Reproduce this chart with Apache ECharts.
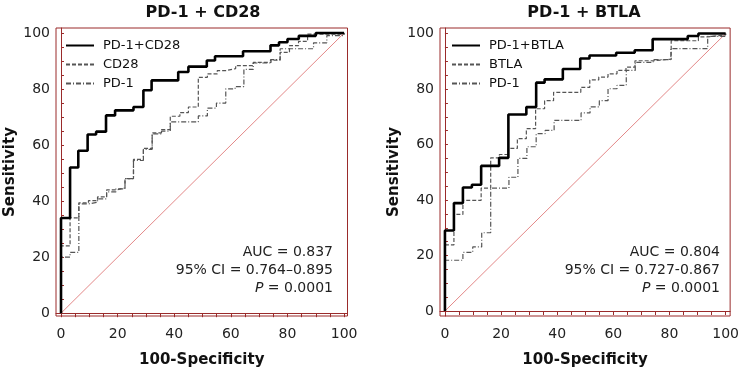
<!DOCTYPE html>
<html>
<head>
<meta charset="utf-8">
<script src="https://cdn.jsdelivr.net/npm/echarts@6.0.0/dist/echarts.min.js"></script>
<style>
  html, body { margin: 0; padding: 0; background: #fff; }
  #chart { width: 742px; height: 373px; }
</style>
</head>
<body>
<div id="chart"></div>
<script>
// ROC curves, [100-specificity, sensitivity] at each step (drawn with step: 'end')
var plusCD28 = [[0,0],[0,34],[3.2,52],[6.1,58],[9.4,63.8],[12.4,64.8],[15.9,70.6],[19.1,72.4],[25.6,73.6],[29.1,79.6],[32,83.1],[41.4,86.1],[45,88],[51.5,90.2],[54.4,91.7],[64.3,93.5],[74,95.6],[77,96.7],[80,97.9],[84,99],[90,100],[100,100]];
var cd28 = [[0,0],[0,24],[3.2,34],[6.3,39.4],[9.7,40.2],[12.9,41.5],[16.1,44],[19.4,44.7],[22.6,48],[25.6,54.9],[29.1,58.8],[32.2,64.4],[35.5,65.5],[38.6,70.3],[42,71.6],[45,73.6],[48.5,84.2],[51.7,85.4],[55.2,86.6],[58.4,87.3],[61.7,88.4],[67.9,89.5],[74.2,90.3],[77.4,93.1],[80.7,95.5],[83.9,97],[87.1,99.6],[100,100]];
var pd1Left = [[0,0],[0,20],[3.2,21.7],[6.3,39],[9.7,39.6],[12.9,40.8],[16.1,43.3],[19.4,44.4],[22.6,48],[25.6,54.5],[29.1,58.5],[32.2,64],[35.5,65],[38.6,68.3],[48.5,70.4],[51.7,73.2],[54.9,75],[58.2,80.1],[61.5,80.9],[64.6,87],[67.9,89.3],[74,90.5],[77.4,94.4],[89.2,96.5],[93.9,99.1],[100,100]];

var plusBTLA = [[0,0],[0,29],[3.2,38.9],[6.4,44.5],[9.6,45.5],[12.9,52.3],[19.3,55.2],[22.6,70.8],[29,73.5],[32.5,82.3],[35.5,83.5],[42,87.2],[48.2,91],[51.5,92.1],[61,93.1],[67.6,94],[74,98],[86.5,99.1],[90.3,100],[100,100]];
var btla = [[0,0],[0,23.8],[3.2,34.8],[6.4,39.9],[12.9,44.3],[16.3,55.2],[19.4,56.4],[22.6,58.6],[25.8,62.1],[29,65.7],[32.3,72.9],[35.5,75.8],[38.7,78.8],[48.4,80.6],[51.6,83.3],[54.8,84.3],[58.1,85.5],[61.3,86.7],[64.5,87.9],[67.7,90.2],[74.2,90.8],[80.6,97.4],[90.3,98.8],[93.5,99.5],[100,100]];
var pd1Right = [[0,0],[0,18.3],[6.4,21.1],[9.9,23.1],[13.1,28.2],[16.3,44.3],[22.8,48.2],[26,55],[29.2,59.2],[32.5,63.9],[35.7,65.1],[38.9,68.7],[48.5,71.4],[51.7,73.6],[55,75.8],[58.1,80.1],[61.3,81.3],[64.6,86.7],[67.8,89.6],[74.2,90.6],[80.5,94.6],[93.6,99],[100,100]];

var diagonal = [[0,0],[100,100]];

var labelValues = [0, 20, 40, 60, 80, 100];
var tickValues = [0, 5, 10, 15, 20, 25, 30, 35, 40, 45, 50, 55, 60, 65, 70, 75, 80, 85, 90, 95, 100];

var leftStats = ['AUC = 0.837', '95% CI = 0.764\u20130.895', '{i|P} = 0.0001'];
var rightStats = ['AUC = 0.804', '95% CI = 0.727-0.867', '{i|P} = 0.0001'];

var FONT = 'DejaVu Sans';
var FRAME = '#9a2b2b';

function xAxisFor(idx, min, max) {
	return {
		type: 'value', gridIndex: idx, min: min, max: max,
		name: '100-Specificity', nameLocation: 'middle', nameGap: 37,
		nameTextStyle: { fontFamily: FONT, fontSize: 15, fontWeight: 'bold', color: '#111' },
		axisLine: { lineStyle: { color: FRAME, width: 1 } },
		axisTick: { customValues: tickValues, length: 4, lineStyle: { color: FRAME } },
		axisLabel: { customValues: labelValues, margin: 11, fontFamily: FONT, fontSize: 14, color: '#222' },
		splitLine: { show: false }
	};
}

function yAxisFor(idx, min, max) {
	return {
		type: 'value', gridIndex: idx, min: min, max: max,
		name: 'Sensitivity', nameLocation: 'middle', nameGap: 38,
		nameTextStyle: { fontFamily: FONT, fontSize: 15, fontWeight: 'bold', color: '#111' },
		axisLine: { lineStyle: { color: FRAME, width: 1 } },
		axisTick: { customValues: tickValues, inside: true, length: 3, lineStyle: { color: FRAME } },
		axisLabel: { customValues: labelValues, margin: 6, fontFamily: FONT, fontSize: 14, color: '#222' },
		splitLine: { show: false }
	};
}

function roc(name, idx, data, style) {
	return {
		name: name, type: 'line', xAxisIndex: idx, yAxisIndex: idx,
		data: data, step: 'end', symbol: 'none', lineStyle: style, itemStyle: { color: style.color },
		z: style.width > 2 ? 4 : 3
	};
}

var solid = { color: '#000', width: 2.6, type: 'solid' };
var dashed = { color: '#555', width: 1.2, type: [4, 2] };
var dashDot = { color: '#555', width: 1.2, type: [5, 2, 1, 2] };

function statTexts(right, list) {
	return list.map(function(t, i) {
		return {
			type: 'text', right: right, top: 245 + i * 18,
			style: {
				text: t, font: '14px "' + FONT + '"', fill: '#222', textAlign: 'right',
				rich: { i: { fontStyle: 'italic', fontSize: 14, fontFamily: FONT, fill: '#222' } }
			}
		};
	});
}

function legendFor(names, left) {
	return {
		data: names, orient: 'vertical', left: left, top: 34,
		itemWidth: 28, itemHeight: 12, itemGap: 6,
		itemStyle: { opacity: 0 },
		textStyle: { fontFamily: FONT, fontSize: 13, color: '#111', padding: [0, 0, 0, 4] }
	};
}

var myChart = echarts.init(document.getElementById('chart'), null, { renderer: 'canvas' });
var option = {
	animation: false,
	backgroundColor: '#fff',
	title: [
		{ text: 'PD-1 + CD28', left: 198, top: 0, textAlign: 'center',
			textStyle: { fontFamily: FONT, fontSize: 16, fontWeight: 'bold', color: '#111' } },
		{ text: 'PD-1 + BTLA', left: 579, top: 0, textAlign: 'center',
			textStyle: { fontFamily: FONT, fontSize: 16, fontWeight: 'bold', color: '#111' } }
	],
	grid: [
		{ left: 56, top: 28, width: 291.5, height: 290, show: true, borderColor: FRAME, borderWidth: 1 },
		{ left: 440, top: 28, width: 293.5, height: 291, show: true, borderColor: FRAME, borderWidth: 1 }
	],
	legend: [
		legendFor(['PD-1+CD28', 'CD28', 'PD-1'], 60),
		legendFor(['PD-1+BTLA', 'BTLA', 'PD-1'], 446)
	],
	xAxis: [xAxisFor(0, -1.77, 101.2), xAxisFor(1, -1.76, 101.6)],
	yAxis: [yAxisFor(0, -1, 101.8), yAxisFor(1, -1.8, 102)],
	series: [
		{ type: 'line', xAxisIndex: 0, yAxisIndex: 0, data: diagonal, symbol: 'none',
			lineStyle: { color: '#e07a7a', width: 0.9 }, z: 2 },
		roc('PD-1+CD28', 0, plusCD28, solid),
		roc('CD28', 0, cd28, dashed),
		roc('PD-1', 0, pd1Left, dashDot),
		{ type: 'line', xAxisIndex: 1, yAxisIndex: 1, data: diagonal, symbol: 'none',
			lineStyle: { color: '#e07a7a', width: 0.9 }, z: 2 },
		roc('PD-1+BTLA', 1, plusBTLA, solid),
		roc('BTLA', 1, btla, dashed),
		roc('PD-1', 1, pd1Right, dashDot)
	],
	graphic: statTexts(742 - 333, leftStats).concat(statTexts(742 - 720, rightStats))
};
myChart.setOption(option);
</script>
</body>
</html>
